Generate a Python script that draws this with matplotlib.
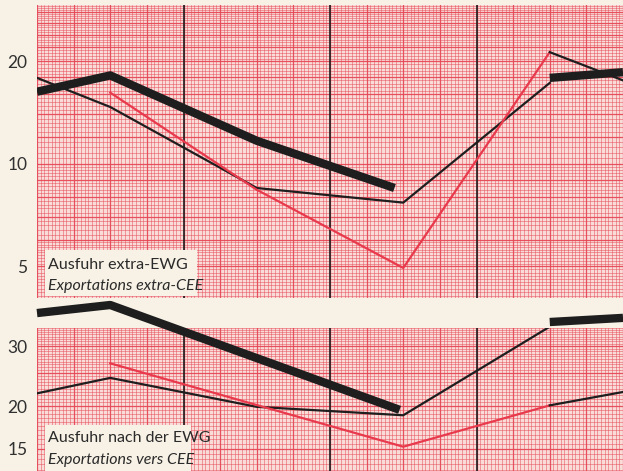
import numpy as np
import matplotlib.pyplot as plt
from matplotlib.patches import Rectangle

# ====== data (log scale) ======
# x: half-year steps, vertical black lines at 2, 4, 6
top_thick_x  = [0, 1, 3, 4.88]
top_thick_v  = [16.3, 18.2, 11.7, 8.5]
top_thick2_x = [7, 8]
top_thick2_v = [17.9, 18.6]
top_thin_x   = [0, 1, 3, 5, 7]
top_thin_v   = [17.9, 14.7, 8.5, 7.7, 17.3]
top_red_x    = [1, 3, 5, 7]
top_red_v    = [16.2, 8.4, 4.95, 21.3]
top_tail_x   = [7, 8]
top_tail_v   = [21.3, 17.6]

bot_thick_x  = [0, 1, 4.95]
bot_thick_v  = [37.5, 39.6, 19.5]
bot_thick2_x = [7, 8]
bot_thick2_v = [35.3, 36.3]
bot_thin_x   = [0, 1, 3, 5, 7]
bot_thin_v   = [21.8, 24.2, 19.9, 18.8, 34.2]
bot_red_x    = [1, 5, 7]
bot_red_v    = [26.7, 15.2, 20.1]
bot_tail_x   = [7, 8]
bot_tail_v   = [20.1, 22.0]

top_ticks = [5, 10, 20]
bot_ticks = [15, 20, 30]
# ==================================================

paper = '#f8f2e6'
grid_c = '#e64a58'
red = '#e83a4c'
ink = '#1e1e1e'
txt = '#2a2a2a'

fig = plt.figure(figsize=(6.23, 4.71), dpi=100, facecolor=paper)
W, H = 623, 471
ax1 = fig.add_axes([37 / W, 1 - 298 / H, 586 / W, 293 / H])
ax2 = fig.add_axes([37 / W, 0, 586 / W, 143 / H])


def paper_grid(ax, ylo, yhi, steps):
    ax.set_facecolor('#f9dcd8')
    for v in np.arange(0, 8.01, 0.05):
        heavy = abs(v * 2 - round(v * 2)) < 1e-6
        ax.axvline(v, color=grid_c, lw=0.9 if heavy else 0.5,
                   alpha=0.95 if heavy else 0.7, zorder=0)
    for lo, hi, st, maj in steps:
        for v in np.arange(lo, hi + 1e-9, st):
            heavy = abs(v / maj - round(v / maj)) < 1e-6
            ax.axhline(v, color=grid_c, lw=0.9 if heavy else 0.5,
                       alpha=0.95 if heavy else 0.7, zorder=0)
    for v in [2, 4, 6]:
        ax.axvline(v, color=ink, lw=1.2, zorder=2)
    ax.set_yscale('log')
    ax.set_xlim(0, 8)
    ax.set_ylim(ylo, yhi)
    ax.set_xticks([])
    ax.minorticks_off()
    for s in ax.spines.values():
        s.set_visible(False)
    ax.tick_params(axis='y', length=0, labelsize=12.5, labelcolor='#303030', pad=7)


paper_grid(ax1, 4.04, 29.3, [(4, 6, 0.1, 1), (6.2, 10, 0.2, 1), (10.4, 30, 0.4, 2)])
paper_grid(ax2, 12.9, 33.9, [(12.5, 34, 0.5, 5)])

for ax, ticks in [(ax1, top_ticks), (ax2, bot_ticks)]:
    ax.set_yticks(ticks)
    ax.set_yticklabels([str(t) for t in ticks], family='Lato')

ax1.plot(top_thick_x, top_thick_v, color=ink, lw=6, solid_capstyle='butt', zorder=4)
ax1.plot(top_thick2_x, top_thick2_v, color=ink, lw=6, solid_capstyle='butt', zorder=4)
ax1.plot(top_thin_x, top_thin_v, color=ink, lw=1.6, zorder=3)
ax1.plot(top_red_x, top_red_v, color=red, lw=1.6, zorder=3)
ax1.plot(top_tail_x, top_tail_v, color=ink, lw=1.6, zorder=3)

ax2.plot(bot_thick_x, bot_thick_v, color=ink, lw=6, solid_capstyle='butt',
         zorder=4, clip_on=False)
ax2.plot(bot_thick2_x, bot_thick2_v, color=ink, lw=6, solid_capstyle='butt',
         zorder=4, clip_on=False)
ax2.plot(bot_thin_x, bot_thin_v, color=ink, lw=1.6, zorder=3)
ax2.plot(bot_red_x, bot_red_v, color=red, lw=1.6, zorder=3)
ax2.plot(bot_tail_x, bot_tail_v, color=ink, lw=1.6, zorder=3)

# label boxes (pixel geometry converted to axes fractions)
ax1.add_patch(Rectangle((8 / 586, 2 / 293), 152 / 586, 46 / 293,
                        transform=ax1.transAxes, facecolor=paper,
                        edgecolor='none', zorder=5))
ax1.text(11 / 586, 33 / 293, 'Ausfuhr extra-EWG', transform=ax1.transAxes,
         fontsize=11.5, family='Lato', color=txt, va='center', ha='left', zorder=6)
ax1.text(11 / 586, 12 / 293, 'Exportations extra-CEE', transform=ax1.transAxes,
         fontsize=11.5, family='Lato', style='italic', color=txt,
         va='center', ha='left', zorder=6)

ax2.add_patch(Rectangle((8 / 586, 0), 146 / 586, 46 / 143,
                        transform=ax2.transAxes, facecolor=paper,
                        edgecolor='none', zorder=5))
ax2.text(11 / 586, 33 / 143, 'Ausfuhr nach der EWG', transform=ax2.transAxes,
         fontsize=11.5, family='Lato', color=txt, va='center', ha='left', zorder=6)
ax2.text(11 / 586, 11 / 143, 'Exportations vers CEE', transform=ax2.transAxes,
         fontsize=11.5, family='Lato', style='italic', color=txt,
         va='center', ha='left', zorder=6)

fig.savefig('out.png', dpi=100, facecolor=paper)
